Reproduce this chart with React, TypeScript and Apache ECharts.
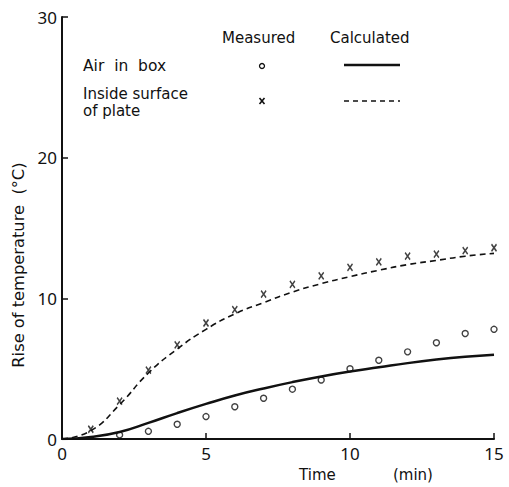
import React, { useEffect, useRef } from "react";
import * as echarts from "echarts";

const times = [0, 1, 2, 3, 4, 5, 6, 7, 8, 9, 10, 11, 12, 13, 14, 15];
const measuredTimes = [1, 2, 3, 4, 5, 6, 7, 8, 9, 10, 11, 12, 13, 14, 15];
const airMeasured = [-0.05, 0.3, 0.55, 1.05, 1.6, 2.3, 2.9, 3.55, 4.2, 5.0, 5.6, 6.2, 6.85, 7.5, 7.8];
const plateMeasured = [0.7, 2.7, 4.9, 6.7, 8.25, 9.2, 10.3, 11.0, 11.6, 12.2, 12.6, 13.0, 13.15, 13.4, 13.6];
const airCalculated = [0, 0.15, 0.5, 1.15, 1.85, 2.5, 3.1, 3.6, 4.05, 4.45, 4.8, 5.1, 5.4, 5.65, 5.85, 6.0];
const plateCalculated = [0, 0.6, 2.45, 4.7, 6.4, 7.8, 8.9, 9.7, 10.45, 11.05, 11.55, 12.0, 12.4, 12.7, 13.0, 13.2];
const yTicks = [0, 10, 20, 30];
const xTicks = [0, 5, 10, 15];

const FONT = "'Noto Sans', 'DejaVu Sans', sans-serif";
const LFONT = "'DejaVu Sans', sans-serif";
const crossPath = "path://M0,0L10,10M10,0L0,10";

export default function App() {
  const ref = useRef<HTMLDivElement>(null);
  useEffect(() => {
    if (!ref.current) return;
    const chart = echarts.init(ref.current, undefined, { renderer: "svg" });
    const pair = (xs: number[], ys: number[]) => xs.map((x, i) => [x, ys[i]]);
    chart.setOption({
      animation: false,
      backgroundColor: "#fff",
      grid: { left: 62, right: 15, top: 17, bottom: 42, containLabel: false },
      xAxis: {
        type: "value",
        min: xTicks[0],
        max: xTicks[xTicks.length - 1],
        interval: 5,
        name: "Time            (min)",
        nameLocation: "middle",
        nameGap: 23,
        nameTextStyle: { fontFamily: LFONT, fontSize: 15, color: "#111", padding: [0, 0, 0, 176] },
        axisLine: { lineStyle: { color: "#111", width: 2 } },
        axisTick: { inside: true, length: 6, lineStyle: { color: "#111", width: 1.5 } },
        axisLabel: { fontFamily: FONT, fontSize: 17, color: "#111", margin: 6 },
        splitLine: { show: false },
      },
      yAxis: {
        type: "value",
        min: yTicks[0],
        max: yTicks[yTicks.length - 1],
        interval: 10,
        name: "Rise of temperature  (°C)",
        nameLocation: "middle",
        nameGap: 33,
        nameRotate: 90,
        nameTextStyle: { fontFamily: LFONT, fontSize: 16.3, color: "#111", padding: [0, 74, 0, 0] },
        axisLine: { show: true, lineStyle: { color: "#111", width: 2 } },
        axisTick: { show: true, inside: true, length: 6, lineStyle: { color: "#111", width: 1.5 } },
        axisLabel: { fontFamily: FONT, fontSize: 17, color: "#111", margin: 5 },
        splitLine: { show: false },
      },
      graphic: [
        { type: "text", left: 222, top: 30, style: { text: "Measured", font: `15px ${LFONT}`, fill: "#111" } },
        { type: "text", left: 330, top: 30, style: { text: "Calculated", font: `15px ${LFONT}`, fill: "#111" } },
        { type: "text", left: 83, top: 58, style: { text: "Air  in  box", font: `15.5px ${LFONT}`, fill: "#111" } },
        { type: "text", left: 83, top: 86, style: { text: "Inside surface", font: `15px ${LFONT}`, fill: "#111" } },
        { type: "text", left: 83, top: 103, style: { text: "of plate", font: `15px ${LFONT}`, fill: "#111" } },
        { type: "circle", shape: { cx: 262, cy: 66, r: 2.5 }, style: { fill: "none", stroke: "#111", lineWidth: 1.3 } },
        { type: "line", shape: { x1: 259.5, y1: 98, x2: 264.5, y2: 104 }, style: { stroke: "#111", lineWidth: 1.6 } },
        { type: "line", shape: { x1: 264.5, y1: 98, x2: 259.5, y2: 104 }, style: { stroke: "#111", lineWidth: 1.6 } },
        { type: "line", shape: { x1: 344, y1: 65, x2: 400, y2: 65 }, style: { stroke: "#111", lineWidth: 2.5 } },
        { type: "line", shape: { x1: 344, y1: 101, x2: 400, y2: 101 }, style: { stroke: "#111", lineWidth: 1.5, lineDash: [5, 4] } },
      ],
      series: [
        {
          name: "Air in box (calculated)",
          type: "line",
          smooth: true,
          showSymbol: false,
          data: pair(times, airCalculated),
          lineStyle: { color: "#111", width: 2.5 },
        },
        {
          name: "Inside surface of plate (calculated)",
          type: "line",
          smooth: true,
          showSymbol: false,
          data: pair(times, plateCalculated),
          lineStyle: { color: "#111", width: 1.6, type: [6, 4] },
        },
        {
          name: "Air in box (measured)",
          type: "scatter",
          symbol: "circle",
          symbolSize: 6,
          data: pair(measuredTimes, airMeasured),
          itemStyle: { color: "#fff", borderColor: "#111", borderWidth: 1.4 },
        },
        {
          name: "Inside surface of plate (measured)",
          type: "scatter",
          symbol: crossPath,
          symbolSize: [5, 7],
          data: pair(measuredTimes, plateMeasured),
          itemStyle: { color: "none", borderColor: "#111", borderWidth: 1.6 },
        },
      ],
    });
    return () => chart.dispose();
  }, []);
  return <div ref={ref} style={{ width: 509, height: 487, position: "absolute", left: 0, top: 0 }} />;
}
